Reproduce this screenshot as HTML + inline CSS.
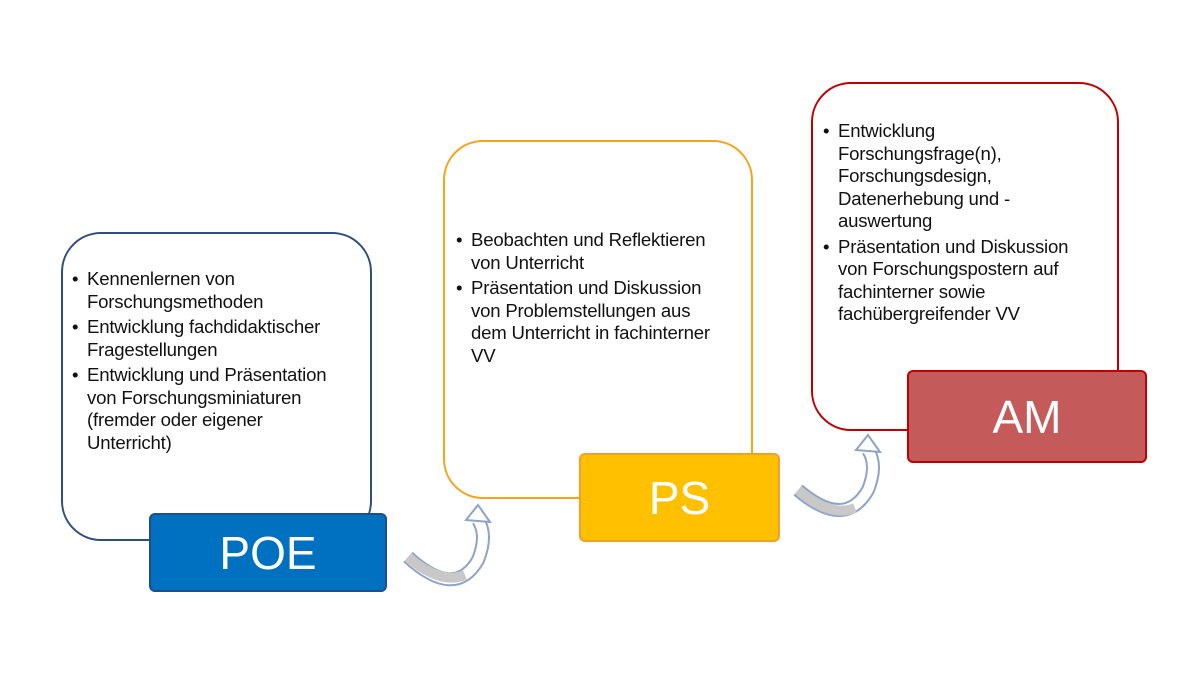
<!DOCTYPE html>
<html><head><meta charset="utf-8"><style>
body{margin:0;width:1200px;height:676px;background:#fff;position:relative;overflow:hidden;font-family:"Liberation Sans",sans-serif}
.box{position:absolute;box-sizing:border-box;background:#fff;border-radius:40px}
.lab{position:absolute;box-sizing:border-box;border-radius:6px;color:#fff;font-size:46px;display:flex;align-items:center;justify-content:center}
ul{position:absolute;margin:0;padding:0;list-style:none;font-size:18.6px;line-height:22.5px;color:#111;letter-spacing:-0.2px}
li{position:relative;padding-left:15px;margin-bottom:3px}
li:before{content:"•";position:absolute;left:0;top:0}
</style></head><body>
<div class="box" style="left:61px;top:232px;width:311px;height:309px;border:2.5px solid #2f4e7e"></div>
<div class="lab" style="left:149px;top:513px;width:238px;height:79px;background:#0070c0;border:2px solid #1f4e8a">POE</div>
<ul style="left:72px;top:268px;width:300px">
<li>Kennenlernen von<br>Forschungsmethoden</li>
<li>Entwicklung fachdidaktischer<br>Fragestellungen</li>
<li>Entwicklung und Präsentation<br>von Forschungsminiaturen<br>(fremder oder eigener<br>Unterricht)</li>
</ul>
<div class="box" style="left:443px;top:140px;width:310px;height:359px;border:2.5px solid #f7a21b"></div>
<div class="lab" style="left:579px;top:453px;width:201px;height:89px;background:#ffc000;border:2px solid #f0a030">PS</div>
<ul style="left:456px;top:229px;width:300px">
<li>Beobachten und Reflektieren<br>von Unterricht</li>
<li>Präsentation und Diskussion<br>von Problemstellungen aus<br>dem Unterricht in fachinterner<br>VV</li>
</ul>
<div class="box" style="left:811px;top:82px;width:308px;height:349px;border:2.5px solid #c00000"></div>
<div class="lab" style="left:907px;top:370px;width:240px;height:93px;background:#c55a5a;border:2px solid #c00000">AM</div>
<ul style="left:823px;top:120px;width:300px">
<li>Entwicklung<br>Forschungsfrage(n),<br>Forschungsdesign,<br>Datenerhebung und -<br>auswertung</li>
<li>Präsentation und Diskussion<br>von Forschungspostern auf<br>fachinterner sowie<br>fachübergreifender VV</li>
</ul>
<svg width="1200" height="676" style="position:absolute;left:0;top:0">
<g>
<path d="M408,557 Q455,600 478,560 Q488,535 478,520" fill="none" stroke="#8ea4c4" stroke-width="14" stroke-linecap="butt"/>
<path d="M408,557 Q455,600 478,560 Q488,535 478,520" fill="none" stroke="#ffffff" stroke-width="10"/>
<path d="M408,557 Q440,585 465,575" fill="none" stroke="#c8c8c8" stroke-width="10"/>
<polygon points="466,520 478,505 490,522" fill="#fff" stroke="#8ea4c4" stroke-width="2"/>
</g>
<g>
<path d="M798,490 Q845,530 868,490 Q878,465 868,450" fill="none" stroke="#8ea4c4" stroke-width="14"/>
<path d="M798,490 Q845,530 868,490 Q878,465 868,450" fill="none" stroke="#ffffff" stroke-width="10"/>
<path d="M798,490 Q830,518 855,508" fill="none" stroke="#c8c8c8" stroke-width="10"/>
<polygon points="856,450 868,435 880,452" fill="#fff" stroke="#8ea4c4" stroke-width="2"/>
</g>
</svg>
</body></html>
